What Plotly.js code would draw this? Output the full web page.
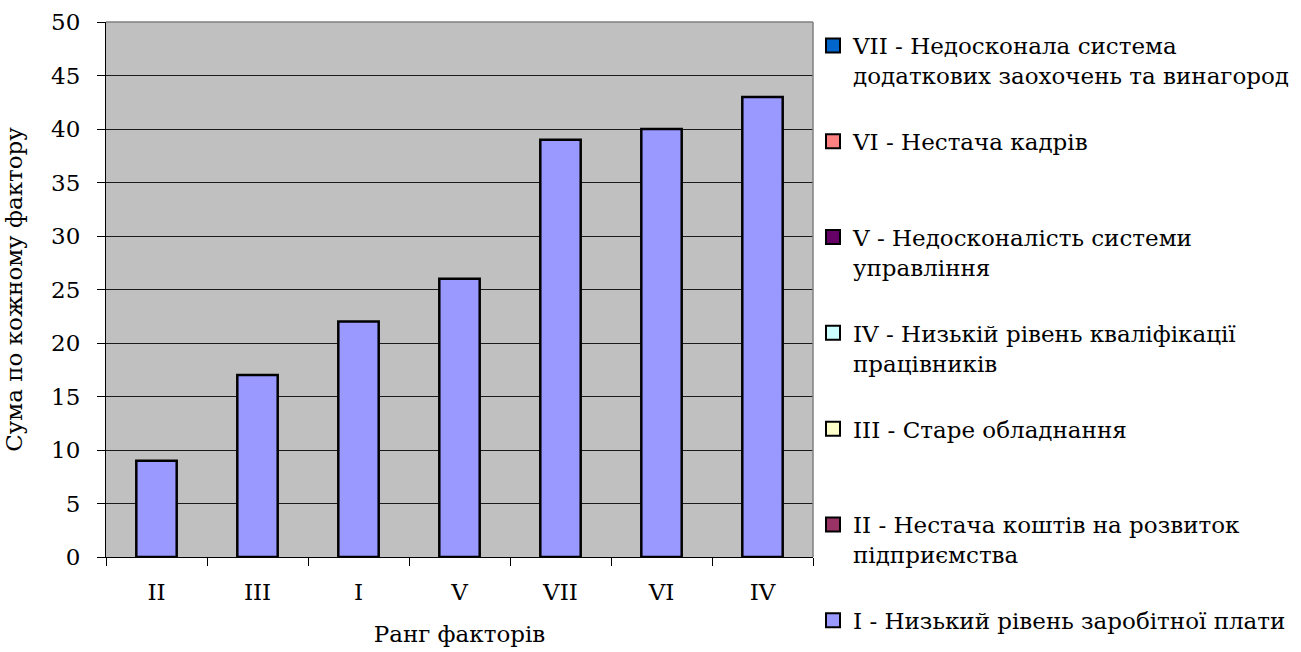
<!DOCTYPE html>
<html>
<head>
<meta charset="utf-8">
<script src="https://cdn.plot.ly/plotly-3.0.1.min.js"></script>
<style>html,body{margin:0;padding:0;background:#fff;}#chart{width:1301px;height:652px;}</style>
</head>
<body>
<div id="chart"></div>
<script>
// Data
var categories = ['II', 'III', 'I', 'V', 'VII', 'VI', 'IV'];
var values = [9, 17, 22, 26, 39, 40, 43];
var legendLabels = [
  'VII - Недосконала система<br>додаткових заохочень та винагород',
  'VI - Нестача кадрів<br> ',
  'V - Недосконалість системи<br>управління',
  'IV - Низькій рівень кваліфікації<br>працівників',
  'III - Старе обладнання<br> ',
  'II - Нестача коштів на розвиток<br>підприємства',
  'I - Низький рівень заробітної плати'
];
var legendColors = ['#0066CC', '#FF8080', '#660066', '#CCFFFF', '#FFFFCC', '#993366', '#9999FF'];
var yTicks = [0, 5, 10, 15, 20, 25, 30, 35, 40, 45, 50];

var FONT = 'DejaVu Serif';
var traces = [{
  type: 'bar',
  x: categories,
  y: values,
  marker: {color: '#9999FF', line: {color: '#000000', width: 2.5}},
  showlegend: false,
  hoverinfo: 'x+y'
}];
legendLabels.forEach(function (lab, i) {
  traces.push({
    type: 'scatter',
    mode: 'markers',
    x: [null],
    y: [null],
    name: lab,
    legendgroup: 'g' + i,
    marker: {symbol: 'square', size: 14, color: legendColors[i], line: {color: '#000000', width: 2}},
    showlegend: true
  });
});

var layout = {
  width: 1301,
  height: 652,
  margin: {l: 106, r: 484, t: 22, b: 95},
  paper_bgcolor: '#ffffff',
  plot_bgcolor: '#C0C0C0',
  bargap: 0.6,
  barmode: 'overlay',
  font: {family: FONT, size: 23, color: '#000000'},
  xaxis: {
    type: 'category',
    categoryorder: 'array',
    categoryarray: categories,
    showline: true,
    linecolor: '#000000',
    linewidth: 1,
    ticks: 'outside',
    tickson: 'boundaries',
    ticklen: 8,
    tickcolor: '#000000',
    showgrid: false,
    ticklabelstandoff: 14,
    tickfont: {family: FONT, size: 23},
    title: {text: 'Ранг факторів', font: {family: FONT, size: 23}, standoff: 22}
  },
  yaxis: {
    range: [0, 50],
    tickvals: yTicks,
    ticktext: yTicks.map(String),
    showline: true,
    linecolor: '#000000',
    linewidth: 1,
    ticks: 'outside',
    ticklen: 8,
    tickcolor: '#000000',
    showgrid: true,
    gridcolor: '#1a1a1a',
    gridwidth: 1,
    zeroline: false,
    ticklabelstandoff: 12,
    tickfont: {family: FONT, size: 23},
    title: {text: 'Сума по кожному фактору', font: {family: FONT, size: 23}, standoff: 22}
  },
  legend: {
    xref: 'container',
    yref: 'container',
    x: 813 / 1301,
    xanchor: 'left',
    y: 1 - 24 / 652,
    yanchor: 'top',
    traceorder: 'grouped',
    tracegroupgap: 33,
    valign: 'top',
    itemsizing: 'trace',
    maxheight: 1000,
    bgcolor: 'rgba(0,0,0,0)',
    font: {family: FONT, size: 23}
  },
  shapes: [
    {type: 'line', xref: 'paper', yref: 'paper', x0: 0, x1: 1, y0: 1, y1: 1, line: {color: '#808080', width: 1.5}, layer: 'above'},
    {type: 'line', xref: 'paper', yref: 'paper', x0: 1, x1: 1, y0: 0, y1: 1, line: {color: '#808080', width: 1.5}, layer: 'above'}
  ]
};

Plotly.newPlot('chart', traces, layout, {displayModeBar: false, staticPlot: true});
</script>
</body>
</html>
